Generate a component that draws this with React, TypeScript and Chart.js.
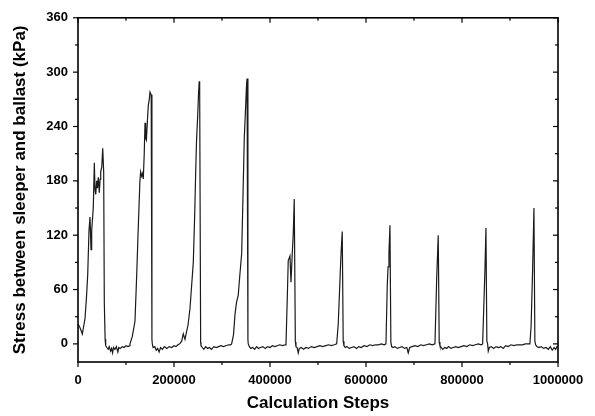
import { useEffect, useRef } from 'react';
import { Chart, registerables } from 'chart.js';

Chart.register(...registerables);

// Calculation steps (x) and stress between sleeper and ballast in kPa (y)
const steps: number[] = [
  0, 4000, 9000, 12000, 14600, 17500, 20200, 22900, 25000, 27100, 28500, 30500, 31900, 34000, 35500, 36900, 39000, 40500, 42300, 44400, 46000, 47300, 49500, 51500, 53500, 54800, 56500, 57700, 60000, 63000, 65000, 68000, 70000, 72000, 74000, 77000, 80000, 83000, 85000, 88000, 92000, 96000, 100000, 104000, 108000,
  108300, 113000, 118700, 122300, 125000, 129000, 130500, 132700, 134500, 136000, 138000, 139600, 141000, 142500, 144500, 146400, 148500, 150000, 152500, 154000, 154800, 156500, 160000, 163000, 166000, 169000, 172000, 176000, 180000, 185000, 190000, 195000, 200000, 204000, 208000, 212000,
  216000, 219300, 222900, 226400, 229000, 233300, 240200, 243000, 245200, 247000, 249400, 251000, 252500, 253500, 255500, 256200, 259000, 262000, 266000, 270000, 274000, 278000, 283000, 288000, 293000, 298000, 303000, 308000, 314000, 318000,
  320000, 324000, 327000, 330000, 333900, 337000, 341000, 344000, 346400, 349300, 351000, 352200, 354000, 354700, 357000, 360000, 364000, 368000, 372000, 376000, 380000, 385000, 390000, 395000, 400000, 405000, 410000, 415000, 420000, 426000, 432000,
  433300, 436000, 438000, 441600, 443700, 446400, 448500, 450500, 452800, 454100, 456500, 458900, 461000, 465000, 470000, 475000, 480000, 486000, 492000, 498000, 504000, 510000, 516000, 522000, 528000, 534000,
  538900, 542200, 545000, 547200, 549000, 550500, 552500, 554100, 557000, 560000, 565000, 570000, 575000, 580000, 585000, 590000, 596000, 602000, 608000, 614000, 620000, 626000, 632000, 638000,
  641600, 644300, 646000, 647800, 649900, 651800, 653400, 656000, 660000, 665000, 670000, 675000, 680000, 685000, 688000, 691000, 696000, 702000, 708000, 714000, 720000, 726000, 732000, 738000,
  743700, 747200, 750500, 752500, 754100, 757000, 760000, 764000, 768000, 772000, 777000, 782000, 787000, 792000, 798000, 804000, 810000, 816000, 822000, 828000, 834000, 840000,
  843000, 847800, 849900, 851800, 853400, 854700, 857000, 861000, 866000, 871000, 876000, 881000, 886000, 891000, 896000, 902000, 908000, 914000, 920000, 926000, 932000, 938000,
  941500, 944000, 947100, 949900, 951800, 953400, 956000, 960000, 965000, 970000, 975000, 980000, 984000, 988000, 992000, 995000, 998000, 1000000,
];

const stress: number[] = [
  22, 18, 11, 20, 28, 50, 76, 125, 140, 104, 125, 140, 151, 200, 170, 165, 180, 172, 184, 167, 182, 190, 195, 216, 190, 46, 5, -2, -4, -6, -3, -8, -5, -10, -4, -6, -3, -9, -4, -5, -3, -4, -2, -3, -2,
  0, 8, 25, 76, 120, 180, 190, 185, 188, 182, 210, 244, 227, 225, 245, 263, 270, 278, 275, 5, 0, -4, -3, -7, -5, -9, -4, -6, -3, -5, -3, -4, -2, -3, -1, 0,
  3, 11, 5, 14, 20, 39, 90, 140, 190, 225, 252, 275, 290, 280, 2, -2, -4, -6, -3, -5, -4, -6, -3, -4, -3, -2, -3, -2, -1, -1,
  0, 10, 32, 45, 54, 75, 100, 170, 227, 263, 285, 293, 5, 0, -3, -5, -4, -6, -3, -5, -4, -3, -5, -3, -4, -2, -3, -2, -1, -2, -1,
  0, 50, 92, 97, 68, 100, 122, 160, 2, -3, -4, -10, -5, -4, -6, -4, -5, -3, -4, -3, -2, -3, -2, -1, -2, -1,
  0, 22, 60, 90, 110, 124, 3, -2, -4, -3, -5, -4, -3, -5, -3, -4, -2, -3, -1, -2, -1, -1, 0, -1,
  0, 65, 85, 100, 131, 2, -3, -4, -3, -5, -4, -3, -5, -4, -10, -4, -3, -2, -3, -1, -2, -1, 0, -1,
  0, 71, 120, 2, -2, -4, -6, -4, -5, -3, -5, -4, -3, -4, -3, -2, -3, -1, -2, -1, 0, -1,
  0, 82, 128, 3, 0, -8, -4, -3, -5, -3, -4, -3, -5, -2, -3, -1, -2, -1, -1, -1, 0, 0,
  0, 20, 82, 150, 3, -1, -3, -4, -3, -5, -4, -6, -3, -7, -4, -6, -3, -4,
];

const xTickValues = [0, 200000, 400000, 600000, 800000, 1000000];
const xMinorValues = [100000, 300000, 500000, 700000, 900000];
const yTickValues = [0, 60, 120, 180, 240, 300, 360];
const yMinorValues = [30, 90, 150, 210, 270, 330];

const FONT = "'Liberation Sans', Arial, Helvetica, sans-serif";

const frameTicks = {
  id: 'frameTicks',
  afterDraw(chart: any) {
    const { ctx, chartArea: a, scales } = chart;
    const xs = scales.x;
    const ys = scales.y;
    ctx.save();
    ctx.strokeStyle = '#000';
    ctx.lineWidth = 1.6;
    ctx.strokeRect(a.left, a.top, a.right - a.left, a.bottom - a.top);
    ctx.lineWidth = 1.2;
    const seg = (x1: number, y1: number, x2: number, y2: number) => {
      ctx.beginPath();
      ctx.moveTo(x1, y1);
      ctx.lineTo(x2, y2);
      ctx.stroke();
    };
    const yTick = (v: number, len: number) => {
      const py = ys.getPixelForValue(v);
      seg(a.left - len, py, a.left, py);
      seg(a.right, py, a.right - len, py);
    };
    const xTick = (v: number, len: number) => {
      const px = xs.getPixelForValue(v);
      seg(px, a.bottom, px, a.bottom + len);
      seg(px, a.top, px, a.top + len);
    };
    yTickValues.forEach((v) => yTick(v, 5));
    yMinorValues.forEach((v) => yTick(v, 3));
    xTickValues.forEach((v) => xTick(v, 5));
    xMinorValues.forEach((v) => xTick(v, 3));
    ctx.restore();
  },
};

export default function App() {
  const ref = useRef<HTMLCanvasElement | null>(null);

  useEffect(() => {
    if (!ref.current) return;
    const chart = new Chart(ref.current, {
      type: 'line',
      data: {
        datasets: [
          {
            data: steps.map((s, i) => ({ x: s, y: stress[i] })),
            borderColor: '#1a1a1a',
            borderWidth: 1.2,
            pointRadius: 0,
            tension: 0,
            fill: false,
          },
        ],
      },
      options: {
        animation: false,
        responsive: false,
        devicePixelRatio: 1,
        layout: { padding: { left: 0, right: 37, top: 10, bottom: 0 } },
        plugins: {
          legend: { display: false },
          tooltip: { enabled: false },
        },
        scales: {
          x: {
            type: 'linear',
            min: 0,
            max: 1000000,
            afterBuildTicks: (s: any) => {
              s.ticks = xTickValues.map((v) => ({ value: v }));
            },
            afterFit: (s: any) => {
              s.height = 54;
            },
            grid: { display: false, drawTicks: false },
            border: { display: false },
            ticks: {
              autoSkip: false,
              maxRotation: 0,
              padding: 11,
              color: '#000',
              font: { family: FONT, size: 13, weight: 'bold' },
              callback: (v: any) => String(v),
            },
            title: {
              display: true,
              text: 'Calculation Steps',
              color: '#000',
              font: { family: FONT, size: 17, weight: 'bold' },
              padding: { top: 0, bottom: 2 },
            },
          },
          y: {
            type: 'linear',
            min: -20,
            max: 360,
            afterBuildTicks: (s: any) => {
              s.ticks = yTickValues.map((v) => ({ value: v }));
            },
            afterFit: (s: any) => {
              s.width = 78;
            },
            grid: { display: false, drawTicks: false },
            border: { display: false },
            ticks: {
              autoSkip: false,
              padding: 10,
              color: '#000',
              font: { family: FONT, size: 13, weight: 'bold' },
              callback: (v: any) => String(v),
            },
            title: {
              display: true,
              text: 'Stress between sleeper and ballast (kPa)',
              color: '#000',
              font: { family: FONT, size: 17, weight: 'bold' },
              padding: { top: 10, bottom: 0 },
            },
          },
        },
      },
      plugins: [frameTicks],
    } as any);
    return () => chart.destroy();
  }, []);

  return (
    <div style={{ position: 'absolute', left: 0, top: 0 }}>
      <canvas ref={ref} width={595} height={416} style={{ display: 'block', width: 595, height: 416 }} />
    </div>
  );
}
